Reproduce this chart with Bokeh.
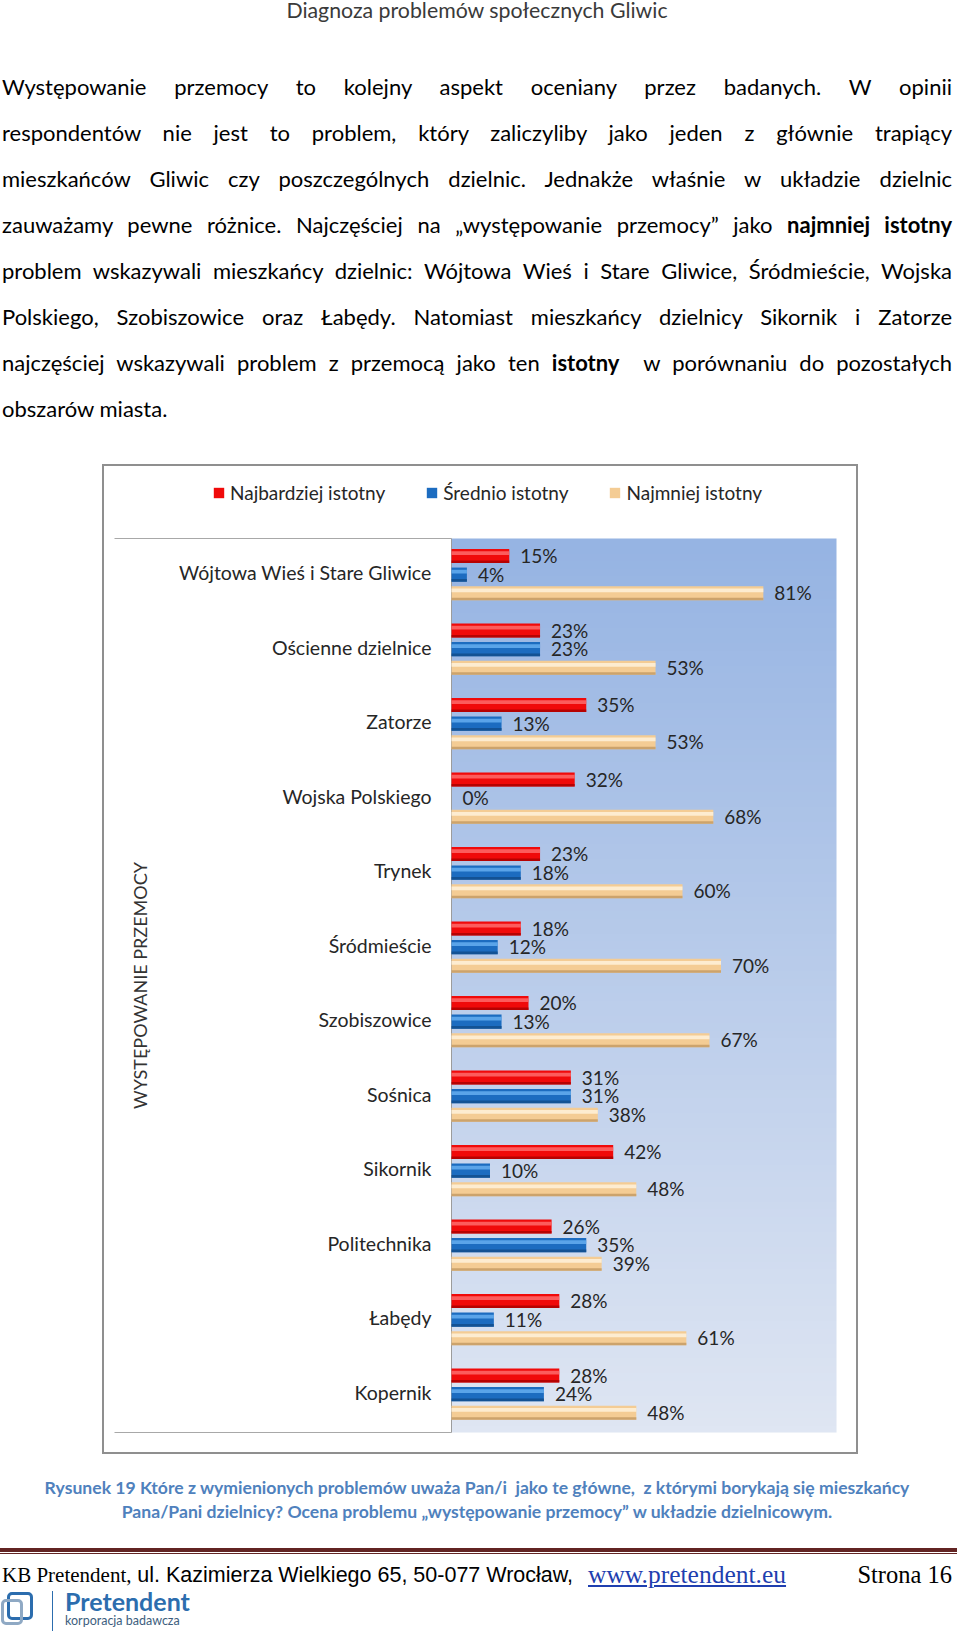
import math
import numpy as np
from bokeh.plotting import figure
from bokeh.models import (ColumnDataSource, Range1d, LabelSet, Label, Legend, LegendItem, Div, Spacer)
from bokeh.layouts import column, row
from bokeh.transform import dodge
from bokeh.core.properties import value
from bokeh.embed import file_html
from bokeh.resources import INLINE

# ---------------- data ----------------
categories = ["Wójtowa Wieś i Stare Gliwice", "Ościenne dzielnice", "Zatorze", "Wojska Polskiego",
              "Trynek", "Śródmieście", "Szobiszowice", "Sośnica", "Sikornik", "Politechnika",
              "Łabędy", "Kopernik"]
najbardziej = [15, 23, 35, 32, 23, 18, 20, 31, 42, 26, 28, 28]
srednio = [4, 23, 13, 0, 18, 12, 13, 31, 10, 35, 11, 24]
najmniej = [81, 53, 53, 68, 60, 70, 67, 38, 48, 39, 61, 48]
series_names = ["Najbardziej istotny", "Średnio istotny", "Najmniej istotny"]
axis_title = "WYSTĘPOWANIE PRZEMOCY"
x_max = 100

header_text = "Diagnoza problemów społecznych Gliwic"
paragraph_lines = [
    "Występowanie przemocy to kolejny aspekt oceniany przez badanych. W opinii",
    "respondentów nie jest to problem, który zaliczyliby jako jeden z głównie trapiący",
    "mieszkańców Gliwic czy poszczególnych dzielnic. Jednakże właśnie w układzie dzielnic",
    "zauważamy pewne różnice. Najczęściej na „występowanie przemocy” jako <b>najmniej istotny</b>",
    "problem wskazywali mieszkańcy dzielnic: Wójtowa Wieś i Stare Gliwice, Śródmieście, Wojska",
    "Polskiego, Szobiszowice oraz Łabędy. Natomiast mieszkańcy dzielnicy Sikornik i Zatorze",
    "najczęściej wskazywali problem z przemocą jako ten <b>istotny</b>&nbsp; w porównaniu do pozostałych",
    "obszarów miasta.",
]
caption_lines = [
    "Rysunek 19 Które z wymienionych problemów uważa Pan/i &nbsp;jako te główne, &nbsp;z którymi borykają się mieszkańcy",
    "Pana/Pani dzielnicy? Ocena problemu „występowanie przemocy” w układzie dzielnicowym.",
]
footer_left = "KB Pretendent,"
footer_mid = "ul. Kazimierza Wielkiego 65, 50-077 Wrocław,"
footer_url = "www.pretendent.eu"
footer_page = "Strona 16"

# ---------------- chart geometry (pixels inside the chart box) ----------------
W, H = 756, 990
plot_left, plot_right = 349, 734      # blue plot area, from the box's left edge
plot_top, plot_bottom = 74, 968       # blue plot area, from the box's top edge
ncat = len(categories)
px_per_x = (plot_right - plot_left) / x_max
px_per_y = (plot_bottom - plot_top) / ncat
x_start = -plot_left / px_per_x
x_end = x_max + (W - plot_right) / px_per_x
y_lo = -0.5 - (H - plot_bottom) / px_per_y
y_hi = ncat - 0.5 + plot_top / px_per_y

ypos = [ncat - 1 - i for i in range(ncat)]
src = ColumnDataSource(dict(
    cat=categories, y=ypos,
    a=najbardziej, b=srednio, c=najmniej,
    la=[f"{v}%" for v in najbardziej],
    lb=[f"{v}%" for v in srednio],
    lc=[f"{v}%" for v in najmniej],
))

p = figure(width=W, height=H, x_range=Range1d(x_start, x_end), y_range=Range1d(y_lo, y_hi),
           output_backend="svg", toolbar_location=None, x_axis_location=None, y_axis_location=None,
           min_border=0)
p.grid.visible = False
p.background_fill_color = "white"
p.border_fill_color = "white"
p.outline_line_color = "#8F8F8F"
p.outline_line_width = 3

# vertical gradient for plot area
n = 120
top_c = np.array([150, 180, 227], dtype=float)
bot_c = np.array([223, 230, 243], dtype=float)
t = np.linspace(0, 1, n)[:, None]
cols = (bot_c * (1 - t) + top_c * t).astype(np.uint8)
img = np.empty((n, 1), dtype=np.uint32)
view = img.view(dtype=np.uint8).reshape((n, 1, 4))
view[:, 0, 0] = cols[:, 0]
view[:, 0, 1] = cols[:, 1]
view[:, 0, 2] = cols[:, 2]
view[:, 0, 3] = 255
p.image_rgba(image=[img], x=0, y=-0.5, dw=x_max, dh=ncat)

# wall / floor edges
p.segment(x0=[x_start + 12 / px_per_x] * 2, x1=[0, 0], y0=[-0.5, ncat - 0.5], y1=[-0.5, ncat - 0.5],
          line_color="#A8A8A8", line_width=1)
p.segment(x0=[0], x1=[0], y0=[-0.5], y1=[ncat - 0.5], line_color="#9C9C9C", line_width=1)

series = [
    ("a", "la", 0.25, "#F00A0A", "#FF7070", "#A80000"),
    ("b", "lb", 0.0, "#1C6CC0", "#6AB3F2", "#124C88"),
    ("c", "lc", -0.25, "#F4CC94", "#FFF4DE", "#C29962"),
]
bar_h = 0.19
legend_items = []
for (col, lab, off, base, light, dark), name in zip(series, series_names):
    r = p.hbar(y=dodge("y", off + 0.015), left=0, right=col, height=bar_h,
               fill_color=base, line_color=None, source=src)
    p.hbar(y=dodge("y", off + 0.055), left=0, right=col, height=0.05,
           fill_color=light, fill_alpha=0.8, line_color=None, source=src)
    p.hbar(y=dodge("y", off - 0.062), left=0, right=col, height=0.036,
           fill_color=dark, fill_alpha=0.8, line_color=None, source=src)
    p.add_layout(LabelSet(x=col, y=dodge("y", off + 0.02), text=lab, source=src,
                          x_offset=11, text_baseline="middle", text_align="left",
                          text_font=value("Lato"), text_font_size="19px", text_color="#262626"))
    legend_items.append(LegendItem(label=name, renderers=[r]))

# category labels
p.text(x=0, y=dodge("y", 0.04), text="cat", source=src, x_offset=-20, text_align="right",
       text_baseline="middle", text_font=value("Lato"), text_font_size="19.5px", text_color="#262626")

legend = Legend(items=legend_items, orientation="horizontal", location=(110, 950),
                glyph_width=13, glyph_height=13, label_standoff=5, spacing=40, label_height=22,
                padding=0, margin=0, border_line_color=None, background_fill_alpha=0,
                label_text_font="Lato", label_text_font_size="19px", label_text_color="#262626")
p.add_layout(legend, "center")

p.add_layout(Label(x=37, y=H - (plot_top + plot_bottom) / 2, x_units="screen", y_units="screen",
                   text=axis_title, angle=math.pi / 2, text_align="center", text_baseline="middle",
                   text_font="Lato", text_font_size="18px", text_color="#333333"))

# ---------------- page text ----------------
line_centers = [88, 134, 180, 226, 272, 318, 364, 410]
parts = ['<div style="position:relative;width:944px;height:454px;font-family:Lato;color:#000;">',
         f'<div style="position:absolute;left:0;top:-7px;width:944px;text-align:center;font-size:21.3px;'
         f'line-height:24px;color:#3a3a3a;">{header_text}</div>']
for i, (txt, cy) in enumerate(zip(paragraph_lines, line_centers)):
    last = i == len(paragraph_lines) - 1
    align = "left" if last else "justify"
    parts.append(f'<div style="position:absolute;left:-3px;top:{cy - 8 - 21}px;width:950px;height:46px;'
                 f'line-height:46px;font-size:22px;text-align:{align};text-align-last:{align};">{txt}</div>')
parts.append('</div>')
top_div = Div(text="".join(parts), width=944, height=454)

cap_centers = [29, 53]
bparts = ['<div style="position:relative;width:944px;height:176px;">']
for txt, cy in zip(caption_lines, cap_centers):
    bparts.append(f'<div style="position:absolute;left:0;top:{cy - 11}px;width:944px;text-align:center;'
                  f'font-family:Lato;font-weight:bold;font-size:17.6px;line-height:22px;color:#4F81BD;'
                  f'white-space:nowrap;">{txt}</div>')
bparts.append('<div style="position:absolute;left:-8px;top:89px;width:960px;height:4px;background:#622423;"></div>')
bparts.append('<div style="position:absolute;left:-8px;top:94px;width:960px;height:1px;background:#622423;"></div>')
bparts.append(f'<div style="position:absolute;left:-3px;top:103px;height:26px;line-height:26px;font-size:21px;'
              f'white-space:nowrap;color:#000;"><span style="font-family:\'Liberation Serif\';">{footer_left}</span> '
              f'<span style="font-family:\'Liberation Sans\';font-size:21.5px;">{footer_mid}</span></div>')
bparts.append(f'<div style="position:absolute;left:583px;top:103px;height:26px;line-height:26px;font-size:25.5px;'
              f'font-family:\'Liberation Serif\';color:#1F3FAF;text-decoration:underline;white-space:nowrap;">{footer_url}</div>')
bparts.append(f'<div style="position:absolute;right:-3px;top:103px;height:26px;line-height:26px;font-size:24.5px;'
              f'font-family:\'Liberation Serif\';color:#000;white-space:nowrap;">{footer_page}</div>')
# logo
bparts.append('<div style="position:absolute;left:2px;top:133px;width:26px;height:28px;border:3px solid #2C6DAE;border-radius:5px;"></div>')
bparts.append('<div style="position:absolute;left:-4px;top:140px;width:22px;height:26px;border:3px solid #8FA9C4;border-radius:5px;"></div>')
bparts.append('<div style="position:absolute;left:47px;top:132px;width:1px;height:40px;background:#2C6DAE;"></div>')
bparts.append('<div style="position:absolute;left:60px;top:128px;font-family:Lato;font-weight:bold;font-size:25px;'
              'line-height:28px;color:#2C6DAE;white-space:nowrap;">Pretendent</div>')
bparts.append('<div style="position:absolute;left:60px;top:155px;font-family:Lato;font-size:12.5px;'
              'line-height:14px;color:#3D5E7E;white-space:nowrap;">korporacja badawcza</div>')
bparts.append('</div>')
bottom_div = Div(text="".join(bparts), width=944, height=176)

layout = column(top_div, row(Spacer(width=102, height=H), p), bottom_div)
open("out.html", "w").write(file_html(layout, INLINE))
